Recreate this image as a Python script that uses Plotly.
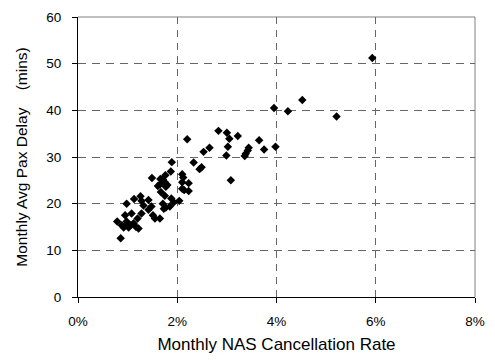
import plotly.graph_objects as go

cancel_rate = [5.93, 5.21, 4.52, 3.95, 4.23, 3.98,
               2.83, 3.00, 3.22, 3.05, 2.20, 3.65, 2.65, 3.02, 2.53, 3.44, 3.42, 3.75, 2.99, 3.38, 3.36, 2.33, 2.49, 2.45, 3.08,
               2.10, 2.12, 2.23, 2.10, 2.23, 2.10, 2.04, 2.14,
               1.89, 1.87, 1.76, 1.66, 1.49, 1.71, 1.75, 1.61, 1.77, 1.66, 1.80, 1.67, 1.75, 1.88, 1.71, 1.77, 1.73, 1.85, 1.93,
               1.26, 1.13, 0.98, 1.28, 1.42, 1.32, 1.48, 1.42, 1.28, 1.08, 1.51, 1.55, 1.65, 0.79, 0.88, 0.98, 1.06, 1.12,
               1.22, 0.92, 1.02, 0.86, 1.17, 1.00, 1.20, 0.95]
pax_delay = [51.2, 38.7, 42.2, 40.5, 39.8, 32.2,
             35.6, 35.2, 34.5, 33.9, 33.8, 33.6, 32.0, 32.2, 31.1, 32.0, 31.4, 31.6, 30.3, 30.7, 30.2, 28.8, 27.8, 27.4, 25.0,
             26.3, 25.6, 24.4, 24.6, 22.7, 23.2, 20.6, 22.9,
             28.9, 26.9, 26.1, 25.3, 25.5, 25.2, 24.6, 23.8, 23.6, 24.2, 24.0, 22.5, 21.7, 21.1, 20.0, 19.2, 18.9, 19.4, 20.3,
             21.6, 21.0, 20.0, 20.6, 20.8, 19.6, 19.4, 18.7, 17.9, 17.9, 17.5, 16.8, 16.8, 16.2, 15.4, 16.2, 15.4, 15.8,
             14.7, 14.9, 14.9, 12.6, 15.0, 15.6, 16.8, 17.5]

x_ticks = [0, 2, 4, 6, 8]
y_ticks = [0, 10, 20, 30, 40, 50, 60]

font = "Liberation Sans, Arial, sans-serif"

fig = go.Figure()
fig.add_trace(go.Scatter(
    x=cancel_rate, y=pax_delay, mode="markers",
    marker=dict(symbol="diamond", size=6.5, color="black", line=dict(width=0)),
    showlegend=False,
))

fig.update_layout(
    width=495, height=360,
    margin=dict(l=78, r=10, t=14, b=59),
    paper_bgcolor="white", plot_bgcolor="white",
    font=dict(family=font, size=13.5, color="black"),
    xaxis=dict(
        range=[0, 8], tickvals=x_ticks, ticktext=[f"{v}%" for v in x_ticks],
        showgrid=True, gridcolor="#666666", griddash="7px,6px", gridwidth=1,
        showline=True, linecolor="black", linewidth=1,
        ticks="outside", ticklen=5, tickcolor="black",
        ticklabelstandoff=7,
        zeroline=False,
        title=dict(text="Monthly NAS Cancellation Rate", font=dict(size=17), standoff=9),
    ),
    yaxis=dict(
        range=[0, 60], tickvals=y_ticks,
        showgrid=True, gridcolor="#666666", griddash="8px,6px", gridwidth=1,
        showline=True, linecolor="black", linewidth=1,
        ticks="outside", ticklen=5, tickcolor="black",
        ticklabelstandoff=8,
        zeroline=False,
        title=dict(text="Monthly Avg Pax Delay\u00a0\u00a0\u00a0\u00a0(mins)", font=dict(size=15.5), standoff=14),
    ),
    shapes=[
        dict(type="line", xref="paper", yref="paper", x0=0, x1=1, y0=1, y1=1,
             line=dict(color="#808080", width=1), layer="below"),
        dict(type="line", xref="paper", yref="paper", x0=1, x1=1, y0=0, y1=1,
             line=dict(color="#808080", width=1), layer="below"),
    ],
)

fig.write_html("out.html")
